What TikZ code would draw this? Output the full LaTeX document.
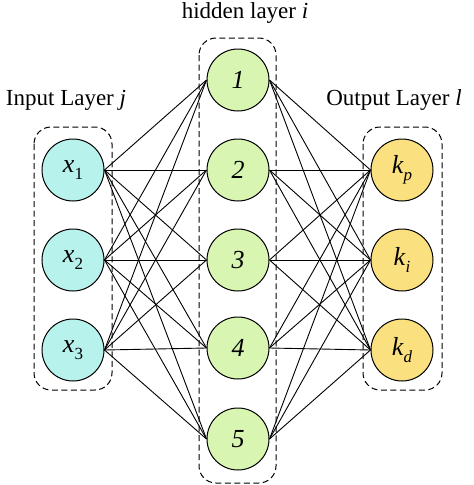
\documentclass[tikz,border=0pt]{standalone}
\usepackage{fontspec}
\setmainfont{Liberation Serif}
\newcommand{\mysub}[2]{\textit{#1}\raisebox{-0.28em}{\fontsize{17}{17}\selectfont #2}}
\begin{document}
\begin{tikzpicture}[x=1pt,y=-1pt,
  neuron/.style={circle,draw=black,line width=1pt,minimum size=62pt,inner sep=0pt,font=\fontsize{26}{26}\selectfont},
  inp/.style={neuron,fill=inpcol},
  hid/.style={neuron,fill=hidcol},
  outp/.style={neuron,fill=outcol},
  grp/.style={draw=black,line width=1pt,rounded corners=17pt,dash pattern=on 6pt off 3.5pt},
  conn/.style={draw=black,line width=0.9pt},
  lbl/.style={font=\fontsize{23}{23}\selectfont,inner sep=0pt}]
\definecolor{inpcol}{RGB}{184,242,236}
\definecolor{hidcol}{RGB}{216,245,178}
\definecolor{outcol}{RGB}{251,224,128}
\useasboundingbox (0,0) rectangle (474,485);
\draw[grp] (34,127) rectangle (112,390);
\draw[grp] (199,38) rectangle (276,483);
\draw[grp] (363,127) rectangle (442,390);
\node[lbl] (tin) at (66,100) {Input Layer \textit{j}};
\node[lbl] (thid) at (245,13) {hidden layer \textit{i}};
\node[lbl] (tout) at (394,100) {Output Layer \textit{l}};
\node[inp] (x1) at (73,170) {\mysub{x}{1}};
\node[inp] (x2) at (73,260) {\mysub{x}{2}};
\node[inp] (x3) at (73,350) {\mysub{x}{3}};
\node[hid] (h1) at (238,80) {\textit{1}};
\node[hid] (h2) at (238,170) {\textit{2}};
\node[hid] (h3) at (238,260) {\textit{3}};
\node[hid] (h4) at (238,348) {\textit{4}};
\node[hid] (h5) at (238,439) {\textit{5}};
\node[outp] (o1) at (402,170) {\mysub{k}{\textit{p}}};
\node[outp] (o2) at (402,260) {\mysub{k}{\textit{i}}};
\node[outp] (o3) at (402,350) {\mysub{k}{\textit{d}}};
\foreach \i in {1,2,3}{
  \foreach \h in {1,...,5}{
    \draw[conn] (x\i.east) -- (h\h.west);
    \draw[conn] (h\h.east) -- (o\i.west);
  }
}
\end{tikzpicture}
\end{document}
